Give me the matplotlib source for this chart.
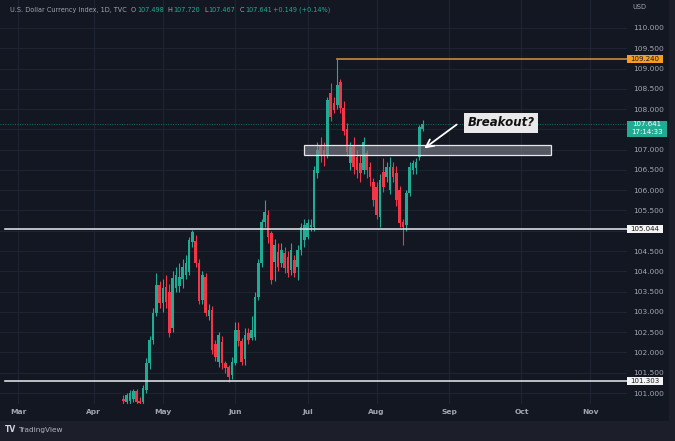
import numpy as np
import matplotlib.pyplot as plt
from matplotlib.patches import Rectangle
from matplotlib.transforms import blended_transform_factory

# Données (indice de séance, base = 1er mars)
first_bar = 32
opens = [100.85, 100.78, 100.80, 100.85, 101.05, 100.80, 100.78, 101.07, 101.75, 102.30,
         102.97, 103.66, 103.22, 103.62, 103.50, 102.60, 103.59, 103.65, 103.80, 103.90,
         103.98, 104.72, 104.75, 104.20, 103.30, 103.86, 102.90, 103.05, 102.20, 101.77,
         102.26, 101.74, 101.64, 101.44, 101.74, 102.55, 102.28, 101.85, 102.48, 102.36,
         102.38, 103.37, 104.21, 105.22, 105.39, 104.95, 104.23, 104.48, 104.20, 104.45,
         104.35, 104.03, 104.28, 104.11, 104.52, 104.77, 104.85, 105.10, 105.10, 106.43,
         107.12, 107.00, 106.87, 108.40, 108.15, 108.10, 108.67, 108.03, 107.50, 106.67,
         107.12, 106.82, 106.67, 106.50, 106.92, 106.57, 106.20, 106.08, 105.34, 106.45,
         106.33, 106.00, 106.57, 106.43, 106.00, 105.22, 105.14, 105.93, 106.50, 106.55,
         106.82, 107.498]
highs = [100.95, 101.00, 101.08, 101.10, 101.10, 100.90, 101.20, 101.86, 102.40, 103.10,
         103.96, 103.75, 103.80, 103.90, 103.70, 104.00, 104.10, 104.20, 104.30, 104.40,
         104.85, 105.02, 104.90, 104.30, 104.00, 103.95, 103.20, 103.15, 102.30, 102.50,
         102.40, 101.80, 101.70, 101.90, 102.75, 102.75, 102.35, 102.60, 102.60, 102.90,
         103.50, 104.30, 105.30, 105.76, 105.50, 105.00, 104.80, 104.70, 104.70, 104.60,
         104.50, 104.70, 104.40, 104.65, 105.20, 105.30, 105.30, 105.30, 106.60, 107.20,
         107.30, 107.20, 108.30, 108.65, 108.30, 109.24, 108.75, 108.20, 107.65, 107.20,
         107.30, 107.00, 106.90, 107.30, 107.00, 106.70, 106.30, 106.20, 106.40, 106.80,
         106.70, 106.82, 106.70, 106.60, 106.10, 105.30, 106.00, 106.70, 106.75, 106.80,
         107.60, 107.720]
lows = [100.70, 100.70, 100.72, 100.78, 100.70, 100.60, 100.70, 101.00, 101.60, 102.20,
        102.90, 103.10, 103.00, 103.10, 102.38, 102.50, 103.50, 103.50, 103.60, 103.80,
        103.90, 104.60, 104.10, 103.20, 103.20, 102.90, 102.80, 101.95, 101.80, 101.65,
        101.60, 101.50, 101.27, 101.35, 101.70, 102.15, 101.70, 101.70, 102.20, 102.30,
        102.30, 103.30, 104.10, 105.10, 104.70, 103.70, 103.75, 104.00, 104.10, 103.95,
        103.85, 103.90, 103.85, 103.79, 104.40, 104.60, 104.80, 105.00, 105.00, 106.30,
        106.70, 106.60, 106.80, 107.70, 107.90, 108.00, 107.90, 107.35, 106.85, 106.50,
        106.40, 106.30, 106.20, 106.40, 106.30, 106.10, 105.60, 105.30, 105.09, 105.95,
        106.20, 105.90, 106.20, 105.60, 105.10, 104.65, 105.00, 105.85, 106.40, 106.40,
        106.75, 107.467]
closes = [100.80, 100.95, 101.00, 101.05, 100.78, 100.75, 101.12, 101.75, 102.30, 102.97,
          103.66, 103.22, 103.59, 103.25, 102.48, 103.84, 103.90, 103.85, 104.10, 104.20,
          104.77, 104.97, 104.20, 103.28, 103.90, 102.97, 103.05, 102.06, 101.90, 102.43,
          101.74, 101.62, 101.40, 101.76, 102.55, 102.28, 101.77, 102.43, 102.30, 102.55,
          103.37, 104.21, 105.22, 105.46, 104.85, 103.79, 104.65, 104.11, 104.53, 104.08,
          103.96, 104.53, 103.96, 104.53, 105.09, 105.14, 105.20, 105.15, 106.50, 106.99,
          106.87, 106.87, 108.22, 107.80, 107.98, 108.60, 108.03, 107.45, 106.95, 107.07,
          106.57, 106.50, 106.43, 107.20, 106.50, 106.33, 105.76, 105.39, 106.25, 106.08,
          106.57, 106.57, 106.33, 105.76, 105.19, 105.09, 105.93, 106.57, 106.67, 106.70,
          107.56, 107.641]

month_labels = ["Mar", "Apr", "May", "Jun", "Jul", "Aug", "Sep", "Oct", "Nov"]
month_bars = [0, 23, 44, 66, 88, 109, 131, 153, 174]

price_ticks = np.arange(101.0, 110.01, 0.5)
hidden_ticks = [105.0, 107.5]   # cachés sous les étiquettes de prix
support_levels = [105.044, 101.303]
high_level = 109.240
high_bar = 97
zone_low, zone_high = 106.87, 107.12
zone_start, zone_end = 87, 162
last_price = 107.641

header = [("U.S. Dollar Currency Index, 1D, TVC", "t"), ("O", "t"), ("107.498", "g"),
          ("H", "t"), ("107.720", "g"), ("L", "t"), ("107.467", "g"),
          ("C", "t"), ("107.641", "g"), ("+0.149 (+0.14%)", "g")]

BG = "#131722"
TXT = "#a3a6af"
GREEN = "#22ab94"
RED = "#f23645"

W, H = 675, 441
fig = plt.figure(figsize=(W / 100, H / 100), dpi=100, facecolor="#1c1f29")
fig.patches.append(Rectangle((0, 20 / H), 669 / W, 1 - 20 / H, transform=fig.transFigure,
                             facecolor=BG, edgecolor="none", zorder=-10))

ax = fig.add_axes([0, 37 / H, 627 / W, 404 / H])
ax.set_facecolor(BG)
ax.set_xlim(-5.5, 185.1)
ax.set_ylim(100.729, 110.690)
for s in ax.spines.values():
    s.set_visible(False)

ax.set_xticks(month_bars)
ax.set_xticklabels(month_labels)
ax.set_yticks(price_ticks)
ax.set_yticklabels(["" if any(abs(v - t) < 1e-6 for t in hidden_ticks) else f"{v:.3f}"
                    for v in price_ticks])
ax.yaxis.tick_right()
ax.tick_params(axis="y", length=0, pad=4.5, labelsize=5.4, labelcolor=TXT)
ax.tick_params(axis="x", length=0, pad=3.5, labelsize=5.4, labelcolor=TXT)
for lbl in ax.get_xticklabels():
    lbl.set_fontweight("bold")
ax.grid(color="#1f2432", lw=0.8)
ax.set_axisbelow(True)

# Bougies
x = np.arange(first_bar, first_bar + len(closes))
o = np.array(opens); h = np.array(highs); l = np.array(lows); c = np.array(closes)
up = c >= o
colors = np.where(up, GREEN, RED)
ax.vlines(x, l, h, colors=colors, lw=0.8, zorder=3)
bottoms = np.minimum(o, c)
heights = np.maximum(np.abs(c - o), 0.025)
ax.bar(x, heights, bottom=bottoms, width=0.8, color=colors, edgecolor="none", zorder=4)

# Niveaux
for lvl in support_levels:
    ax.plot([-4, 185.1], [lvl, lvl], color="#d9dbe0", lw=1.2, zorder=5)
ax.plot([high_bar, 185.1], [high_level, high_level], color="#c88c36", lw=1.2, zorder=5)
ax.axhline(last_price, color=GREEN, lw=0.7, ls=(0, (1, 1.5)), alpha=0.6, zorder=2)

ax.add_patch(Rectangle((zone_start, zone_low), zone_end - zone_start, zone_high - zone_low,
                       facecolor="#80838c", alpha=0.6, edgecolor="none", zorder=6))
ax.add_patch(Rectangle((zone_start, zone_low), zone_end - zone_start, zone_high - zone_low,
                       facecolor="none", edgecolor="#e6e7ea", lw=0.9, zorder=6))

# Annotation
ax.annotate("", xy=(122.8, 106.99), xytext=(134.0, 107.66),
            arrowprops=dict(arrowstyle="->", color="white", lw=1.3, mutation_scale=14),
            zorder=8)
ax.text(146.8, 107.66, "Breakout?", fontsize=8.5, fontweight="bold", fontstyle="italic",
        color="#111111", ha="center", va="center", zorder=9,
        bbox=dict(boxstyle="square,pad=0.3", facecolor="#e9e9ea", edgecolor="none"))

# Étiquettes de prix sur l'axe
tr = blended_transform_factory(ax.transAxes, ax.transData)
px = 40.56


def price_tag(price, face, fg, width_px=36):
    ax.add_patch(Rectangle((1.0, price - 4.0 / px), width_px / 627, 8.0 / px, transform=tr,
                           facecolor=face, edgecolor="none", clip_on=False, zorder=10))
    ax.text(1.0 + (width_px / 2) / 627, price, f"{price:.3f}", transform=tr, fontsize=5.0,
            color=fg, ha="center", va="center", clip_on=False, zorder=11)


price_tag(high_level, "#f59d1e", "#1a1a1a")
for lvl in support_levels:
    price_tag(lvl, "#f4f4f5", "#1a1a1a")

ax.add_patch(Rectangle((1.0, last_price - 13.5 / px), 40 / 627, 16 / px, transform=tr,
                       facecolor=GREEN, edgecolor="none", clip_on=False, zorder=10))
ax.text(1.0 + 20 / 627, last_price - 0.8 / px, f"{last_price:.3f}", transform=tr,
        fontsize=5.0, color="white", ha="center", va="center", clip_on=False, zorder=11)
ax.text(1.0 + 20 / 627, last_price - 8.8 / px, "17:14:33", transform=tr,
        fontsize=5.0, color="white", ha="center", va="center", clip_on=False, zorder=11)

# En-tête : segments placés à la suite
renderer = fig.canvas.get_renderer()
xp = 10
for i, (s, kind) in enumerate(header):
    t = fig.text(xp / W, 1 - 10 / H, s, color=GREEN if kind == "g" else TXT,
                 fontsize=4.7, va="center", ha="left")
    wpx = t.get_window_extent(renderer).width
    gap = 1 if header[i + 1:] and header[i + 1][1] == "g" else 4
    xp += wpx + gap

fig.text(632 / W, 1 - 7 / H, "USD", color=TXT, fontsize=4.8, va="center")
fig.text(5 / W, 1 - 430 / H, "TV", color="#d1d4dc", fontsize=5.5, fontweight="bold", va="center")
fig.text(18 / W, 1 - 430 / H, "TradingView", color="#b2b5be", fontsize=5.3, va="center")

fig.savefig("out.png", dpi=100, facecolor=fig.get_facecolor())
